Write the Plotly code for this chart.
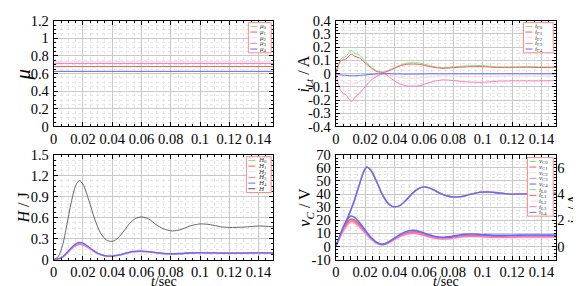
import plotly.graph_objects as go

W, H_ = 581, 286

# ---------------- data ----------------
C_GREEN = "#77e877"
C_RED = "#ff5a5a"
C_LPINK = "#ffd6d6"
C_PINK = "#ff78c0"
C_BLUE = "#5a6cff"
C_GRAY = "#555555"

# mu (top-left)
t_mu = [0.0, 0.15]
mu0 = [0.68, 0.68]
mu1 = [0.68, 0.68]
mu2 = [0.735, 0.735]
mu3 = [0.715, 0.715]
mu4 = [0.625, 0.625]

# i_Lt (top-right)
t_ig = [0, 0.003, 0.005, 0.007, 0.0095, 0.011, 0.013, 0.016, 0.02, 0.024, 0.028, 0.033, 0.038,
        0.043, 0.048, 0.053, 0.058, 0.063, 0.068, 0.073, 0.08, 0.088, 0.095, 0.1, 0.11, 0.12,
        0.13, 0.14, 0.15]
ig0 = [0, 0.10, 0.125, 0.13, 0.168, 0.175, 0.152, 0.14, 0.095, 0.05, 0.02, 0.012, 0.035, 0.06,
       0.078, 0.082, 0.078, 0.062, 0.05, 0.045, 0.05, 0.058, 0.06, 0.06, 0.05, 0.05, 0.052, 0.05, 0.05]
ig1 = [0, 0.09, 0.105, 0.11, 0.14, 0.148, 0.13, 0.12, 0.08, 0.045, 0.015, 0.01, 0.03, 0.055,
       0.07, 0.072, 0.068, 0.055, 0.045, 0.04, 0.045, 0.05, 0.053, 0.052, 0.047, 0.047, 0.048, 0.046, 0.046]
ig2 = [0, -0.04, -0.06, -0.07, -0.08, -0.08, -0.07, -0.06, -0.045, -0.03, -0.015, -0.005, -0.015,
       -0.028, -0.035, -0.035, -0.032, -0.025, -0.02, -0.018, -0.02, -0.022, -0.022, -0.022, -0.02,
       -0.02, -0.02, -0.02, -0.02]
ig3 = [0, -0.12, -0.15, -0.16, -0.2, -0.21, -0.18, -0.15, -0.1, -0.05, -0.02, 0.0, -0.04, -0.075,
       -0.092, -0.095, -0.09, -0.07, -0.055, -0.048, -0.052, -0.062, -0.066, -0.066, -0.058, -0.055,
       -0.055, -0.055, -0.053]
ig4 = [0, -0.01, -0.012, -0.013, -0.016, -0.017, -0.016, -0.014, -0.01, -0.006, -0.003, 0.0, -0.002,
       -0.003, -0.004, -0.004, -0.003, -0.002, -0.002, -0.002, -0.002, -0.002, -0.002, -0.002,
       -0.002, -0.002, -0.002, -0.002, -0.002]

# H (bottom-left)
t_H = [0, 0.003, 0.006, 0.009, 0.012, 0.015, 0.0175, 0.02, 0.024, 0.028, 0.032, 0.036, 0.04, 0.044,
       0.048, 0.052, 0.056, 0.06, 0.065, 0.07, 0.075, 0.081, 0.087, 0.093, 0.1, 0.107, 0.114, 0.12,
       0.13, 0.14, 0.15]
H_tot = [0, 0.04, 0.2, 0.5, 0.82, 1.06, 1.13, 1.08, 0.85, 0.58, 0.38, 0.28, 0.26, 0.31, 0.41, 0.52,
         0.59, 0.61, 0.58, 0.5, 0.44, 0.41, 0.43, 0.48, 0.51, 0.5, 0.47, 0.46, 0.465, 0.48, 0.47]
H4 = [0, 0.01, 0.04, 0.1, 0.17, 0.225, 0.245, 0.235, 0.18, 0.12, 0.075, 0.052, 0.05, 0.062, 0.085,
      0.108, 0.12, 0.122, 0.115, 0.1, 0.088, 0.083, 0.087, 0.094, 0.098, 0.097, 0.093, 0.092, 0.093,
      0.096, 0.095]
H1 = [0, 0.008, 0.035, 0.09, 0.155, 0.205, 0.225, 0.215, 0.165, 0.11, 0.07, 0.05, 0.048, 0.06, 0.08,
      0.102, 0.114, 0.117, 0.11, 0.096, 0.085, 0.081, 0.085, 0.091, 0.095, 0.094, 0.091, 0.09, 0.091,
      0.093, 0.093]
H0 = list(H1)
H2 = [0, 0.007, 0.033, 0.085, 0.148, 0.197, 0.216, 0.207, 0.16, 0.107, 0.068, 0.049, 0.047, 0.058,
      0.078, 0.1, 0.112, 0.115, 0.108, 0.095, 0.084, 0.08, 0.084, 0.09, 0.094, 0.093, 0.09, 0.089,
      0.09, 0.092, 0.092]
H3 = [0, 0.007, 0.034, 0.087, 0.15, 0.2, 0.219, 0.21, 0.162, 0.108, 0.069, 0.05, 0.048, 0.059, 0.079,
      0.101, 0.113, 0.116, 0.109, 0.096, 0.085, 0.081, 0.085, 0.091, 0.095, 0.094, 0.091, 0.09, 0.091,
      0.093, 0.093]

# v_C (bottom-right, left axis)
t_vC = [0, 0.004, 0.008, 0.012, 0.016, 0.019, 0.021, 0.024, 0.028, 0.032, 0.036, 0.04, 0.044, 0.048,
        0.052, 0.056, 0.06, 0.063, 0.067, 0.071, 0.075, 0.08, 0.085, 0.09, 0.095, 0.1, 0.105, 0.11,
        0.115, 0.12, 0.13, 0.14, 0.15]
vC = [0, 10, 21.5, 33, 47, 57, 60.5, 58, 49, 39, 32.5, 30.2, 31.5, 35.5, 40.5, 44, 45.5, 45, 43, 40.5,
      38.8, 37.8, 38, 39.3, 40.8, 41.5, 41.5, 41, 40.3, 40, 40.2, 40.5, 40.8]

# i_L (bottom-right, right axis)
t_iL = [0, 0.003, 0.006, 0.009, 0.0105, 0.013, 0.016, 0.02, 0.024, 0.028, 0.0315, 0.035, 0.04, 0.045,
        0.05, 0.053, 0.057, 0.062, 0.067, 0.073, 0.078, 0.083, 0.088, 0.093, 0.1, 0.107, 0.115, 0.125,
        0.135, 0.15]
iL4 = [0, 0.9, 1.7, 2.22, 2.32, 2.2, 1.85, 1.25, 0.7, 0.3, 0.17, 0.28, 0.65, 1.0, 1.2, 1.23, 1.15, 0.95,
       0.78, 0.7, 0.75, 0.85, 0.93, 0.95, 0.9, 0.85, 0.85, 0.87, 0.88, 0.87]
iL1 = [0, 0.8, 1.5, 1.98, 2.08, 1.98, 1.67, 1.12, 0.62, 0.26, 0.15, 0.25, 0.58, 0.9, 1.07, 1.1, 1.03,
       0.85, 0.7, 0.62, 0.66, 0.75, 0.82, 0.84, 0.8, 0.76, 0.76, 0.77, 0.78, 0.77]
iL0 = list(iL1)
iL3 = [0, 0.74, 1.38, 1.82, 1.92, 1.83, 1.55, 1.04, 0.58, 0.24, 0.14, 0.23, 0.54, 0.84, 1.0, 1.02, 0.96,
       0.79, 0.65, 0.58, 0.61, 0.7, 0.76, 0.78, 0.75, 0.71, 0.71, 0.72, 0.73, 0.72]
iL2 = [0, 0.7, 1.3, 1.72, 1.81, 1.73, 1.46, 0.98, 0.55, 0.23, 0.13, 0.22, 0.51, 0.8, 0.95, 0.97, 0.91,
       0.75, 0.62, 0.55, 0.58, 0.66, 0.72, 0.74, 0.71, 0.67, 0.67, 0.68, 0.69, 0.68]

x_ticks = [0, 0.02, 0.04, 0.06, 0.08, 0.1, 0.12, 0.14]
ig_ticks = [-0.4, -0.3, -0.2, -0.1, 0, 0.1, 0.2, 0.3, 0.4]
ig_text = ["-0.4", "-0.3", "-0.2", "-0.1", "0", "0.1", "0.2", "0.3", "0.4"]
vC_ticks = [-10, 0, 10, 20, 30, 40, 50, 60, 70]
vC_text = ["-10", "0", "10", "20", "30", "40", "50", "60", "70"]

# ---------------- figure ----------------
FONT = "Liberation Serif, Times New Roman, serif"
fig = go.Figure()

def px_x(p):
    return p / W

def px_y(p):
    return 1 - p / H_

def add(x, y, color, xa, ya, width=1.0):
    fig.add_trace(go.Scatter(x=x, y=y, mode="lines", line=dict(color=color, width=width, shape="spline", smoothing=0.8),
                             xaxis=xa, yaxis=ya, showlegend=False, hoverinfo="skip"))

cols5 = [C_GREEN, C_RED, C_LPINK, C_PINK, C_BLUE]
for y, c in zip([mu0, mu1, mu2, mu3, mu4], cols5):
    add(t_mu, y, c, "x", "y")
for y, c in zip([ig0, ig1, ig2, ig3, ig4], cols5):
    add(t_ig, y, c, "x2", "y2")
for y, c in zip([H0, H1, H2, H3, H4], cols5):
    add(t_H, y, c, "x3", "y3", 1.3)
add(t_H, H_tot, C_GRAY, "x3", "y3", 0.9)
for c in cols5:
    add(t_vC, vC, c, "x4", "y4", 1.3)
for y, c in zip([iL0, iL1, iL2, iL3, iL4], cols5):
    add(t_iL, y, c, "x4", "y5", 1.6)

tickfont = dict(family=FONT, size=14.5, color="black")

def xax(dom, anchor):
    return dict(domain=dom, anchor=anchor, range=[0, 0.15], tickvals=x_ticks, tickfont=tickfont,
                showline=True, linecolor="black", linewidth=1, mirror="allticks",
                ticks="inside", ticklen=4, tickcolor="black", showgrid=True, gridcolor="#c8c8c8",
                gridwidth=1, zeroline=False, ticklabelstandoff=-1,
                minor=dict(dtick=0.005, ticks="inside", ticklen=2, tickcolor="black",
                           showgrid=True, gridcolor="#e6e6e6", griddash="dot"))

def yax(dom, anchor, rng, dtick=None, tickvals=None, ticktext=None, mdt=None):
    d = dict(domain=dom, anchor=anchor, range=rng, tickfont=tickfont,
             showline=True, linecolor="black", linewidth=1, mirror="allticks",
             ticks="inside", ticklen=4, tickcolor="black", showgrid=True, gridcolor="#c8c8c8",
             gridwidth=1, zeroline=False, ticklabelstandoff=1,
             minor=dict(dtick=mdt, ticks="inside", ticklen=2, tickcolor="black",
                        showgrid=True, gridcolor="#e6e6e6", griddash="dot"))
    if tickvals is not None:
        d["tickvals"] = tickvals
        d["ticktext"] = ticktext
    else:
        d["dtick"] = dtick
        d["tick0"] = 0
    return d

XL = [px_x(42), px_x(263)]
XR = [px_x(326), px_x(548)]
YT = [px_y(117), px_y(5)]
YB = [px_y(258), px_y(147)]

y4 = yax(YB, "x4", [-10, 70], tickvals=vC_ticks, ticktext=vC_text, mdt=2.5)
y4["mirror"] = True
fig.update_layout(
    xaxis=xax(XL, "y"),
    yaxis=yax(YT, "x", [0, 1.2], dtick=0.2, mdt=0.05),
    xaxis2=xax(XR, "y2"),
    yaxis2=yax(YT, "x2", [-0.4, 0.4], tickvals=ig_ticks, ticktext=ig_text, mdt=0.025),
    xaxis3=xax(XL, "y3"),
    yaxis3=yax(YB, "x3", [0, 1.5], dtick=0.3, mdt=0.075),
    xaxis4=xax(XR, "y4"),
    yaxis4=y4,
    yaxis5=dict(overlaying="y4", side="right", anchor="x4", range=[-1, 7], tickvals=[0, 2, 4, 6],
                tickfont=tickfont, showgrid=False, zeroline=False, showline=False,
                ticks="inside", ticklen=4, tickcolor="black", ticklabelstandoff=0,
                minor=dict(dtick=0.25, ticks="inside", ticklen=2, tickcolor="black")),
    width=W, height=H_, autosize=False,
    margin=dict(l=0, r=0, t=0, b=0),
    paper_bgcolor="white", plot_bgcolor="white",
    font=dict(family=FONT, color="black"),
    showlegend=False,
)

# axis titles
ann = []
def title(text, x, y, size=17, angle=-90):
    ann.append(dict(text=text, x=px_x(x), y=px_y(y), xref="paper", yref="paper", showarrow=False,
                    textangle=angle, font=dict(family=FONT, size=size, color="black"),
                    xanchor="center", yanchor="middle"))

title("<i>μ</i>", 11, 62, 21)
title("<i>i</i><sub><i>Lt</i></sub> / A", 295, 61, 16)
title("<i>H</i> / J", 12, 203, 16)
title("<i>v</i><sub><i>C</i></sub> / V", 296, 202, 16)
title("<i>i</i><sub><i>L</i></sub> / A", 566, 204, 14)
title("<i>t</i>/sec", 153, 281, 14, 0)
title("<i>t</i>/sec", 437, 281, 14, 0)

shapes = []
def legend(x0, y0, x1, labels, colors, row=6.0):
    n = len(labels)
    y1 = y0 + row * n + 2
    shapes.append(dict(type="rect", xref="paper", yref="paper", x0=px_x(x0), x1=px_x(x1),
                       y0=px_y(y0), y1=px_y(y1), line=dict(color="#ff8a8a", width=1),
                       fillcolor="white", layer="above"))
    for i, (lab, c) in enumerate(zip(labels, colors)):
        yc = y0 + 1 + row * (i + 0.5)
        shapes.append(dict(type="line", xref="paper", yref="paper", x0=px_x(x0 + 2), x1=px_x(x0 + 9),
                           y0=px_y(yc), y1=px_y(yc), line=dict(color=c, width=1), layer="above"))
        ann.append(dict(text=lab, x=px_x(x0 + 10), y=px_y(yc), xref="paper", yref="paper",
                        showarrow=False, xanchor="left", yanchor="middle",
                        font=dict(family=FONT, size=7, color="#333333")))

legend(238, 7, 261, ["<i>μ</i><sub>0</sub>", "<i>μ</i><sub>1</sub>", "<i>μ</i><sub>2</sub>",
                     "<i>μ</i><sub>3</sub>", "<i>μ</i><sub>4</sub>"], cols5)
legend(515, 7, 545, ["<i>i</i><sub>Γ0</sub>", "<i>i</i><sub>Γ1</sub>", "<i>i</i><sub>Γ2</sub>",
                     "<i>i</i><sub>Γ3</sub>", "<i>i</i><sub>Γ4</sub>"], cols5)
legend(236, 149, 261, ["<i>H</i><sub>0</sub>", "<i>H</i><sub>1</sub>", "<i>H</i><sub>2</sub>",
                       "<i>H</i><sub>3</sub>", "<i>H</i><sub>4</sub>", "<i>H</i>"], cols5 + [C_GRAY])
legend(519, 150, 545, ["<i>v</i><sub>C0</sub>", "<i>v</i><sub>C1</sub>", "<i>v</i><sub>C2</sub>",
                       "<i>v</i><sub>C3</sub>", "<i>v</i><sub>C4</sub>",
                       "<i>i</i><sub>L0</sub>", "<i>i</i><sub>L1</sub>", "<i>i</i><sub>L2</sub>",
                       "<i>i</i><sub>L3</sub>", "<i>i</i><sub>L4</sub>"], cols5 + cols5)

fig.update_layout(annotations=ann, shapes=shapes)
fig.write_html("out.html")
